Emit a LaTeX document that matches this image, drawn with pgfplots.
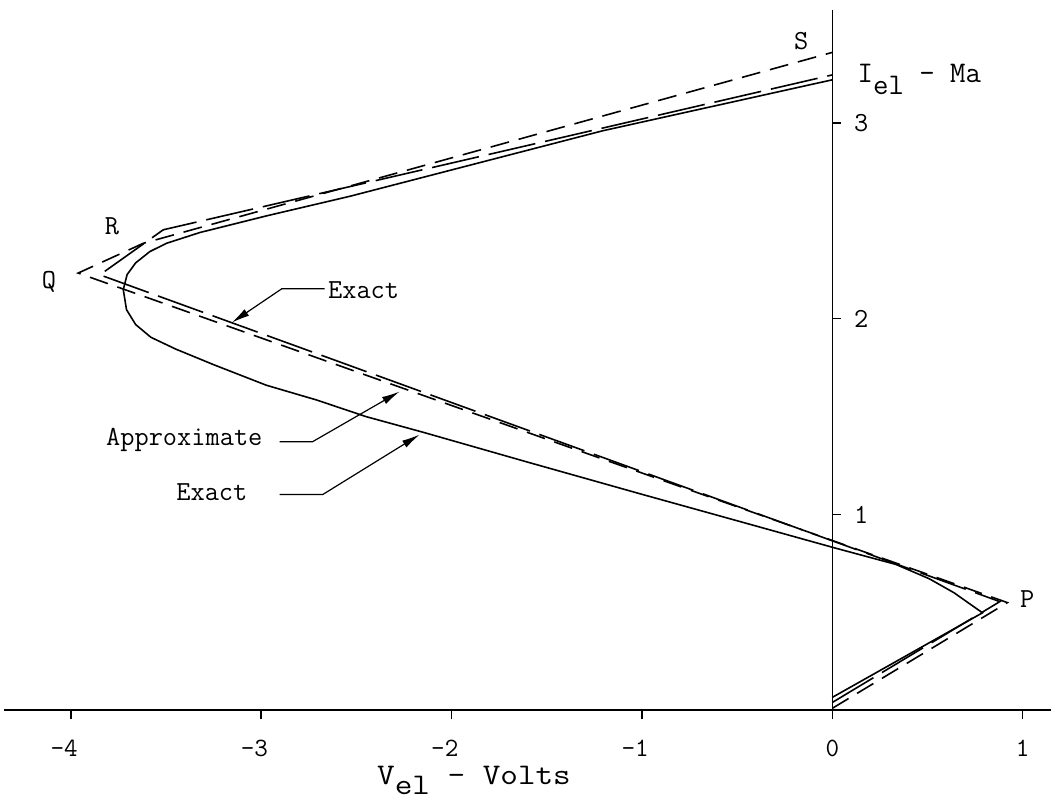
\documentclass[border=0pt]{standalone}
\usepackage{graphicx}
\usepackage{pgfplots}
\pgfplotsset{compat=1.18}
\usetikzlibrary{arrows.meta}
\newcommand\lab{\fontsize{13.8}{16}\selectfont\ttfamily}
\newcommand\ticklab{\fontsize{13.2}{15}\selectfont\ttfamily}
\newcommand\axlab{\fontsize{15}{17}\selectfont\ttfamily}
\begin{document}
\begin{tikzpicture}
\begin{axis}[
  scale only axis,
  width=523.9pt, height=350.5pt,
  xmin=-4.35, xmax=1.15, ymin=0, ymax=3.577,
  axis x line=bottom, axis y line=middle,
  axis line style={-, line width=0.8pt, black},
  every inner y axis line/.append style={-},
  every inner x axis line/.append style={-},
  hide obscured x ticks=false,
  hide obscured y ticks=false,
  xtick={-4,-3,-2,-1,0,1},
  xticklabels={\llap{-}4,\llap{-}3,\llap{-}2,\llap{-}1,0,1},
  ytick={1,2,3}, yticklabels={1,2,3},
  xtick align=outside, ytick align=inside,
  major tick length=4.5pt,
  tick style={line width=0.8pt, black},
  ticklabel style={font=\lab},
  xticklabel style={font=\ticklab, anchor=center, yshift=-14.5pt},
  yticklabel style={anchor=west, xshift=7.4pt},
  clip=false,
]
% page extent
\path (axis cs:-4.3727,-0.4898) rectangle (axis cs:1.1496,3.6276);

% approximation through P, Q and S (short dashes)
\addplot[black, line width=0.8pt, dash pattern=on 9.5pt off 5pt]
  coordinates {(0,0.01) (0.92,0.55) (-3.962,2.233) (-3.62,2.385) (0,3.36)};

% approximation through P, Q, R (long dashes)
\addplot[black, line width=0.8pt, dash pattern=on 24pt off 5pt]
  coordinates {(0,0.04) (0.88,0.555) (-3.848,2.224) (-3.515,2.454) (0,3.245)};

% exact characteristic
\addplot[black, line width=0.8pt] coordinates {
  (0,0.066) (0.789,0.498) (0.72,0.545) (0.64,0.60) (0.509,0.672)
  (0.334,0.745) (0.01,0.83) (-0.5,0.968) (-1.0,1.103) (-1.61,1.27)
  (-2.15,1.42) (-2.45,1.50) (-2.71,1.585) (-2.973,1.66) (-3.25,1.765)
  (-3.45,1.845) (-3.58,1.905) (-3.66,1.97) (-3.708,2.046) (-3.725,2.148)
  (-3.705,2.225) (-3.66,2.285) (-3.585,2.343) (-3.498,2.385) (-3.323,2.44)
  (-2.973,2.525) (-2.535,2.625) (-1.205,2.96) (0,3.22)};

% annotations
\draw[line width=0.6pt, -{Latex[length=9pt,width=4pt]}]
  (axis cs:-2.667,2.153) -- (axis cs:-2.892,2.153) -- (axis cs:-3.155,1.98);
\node[font=\lab, anchor=west, inner sep=0pt] at (axis cs:-2.651,2.148) {Exact};

\draw[line width=0.6pt, -{Latex[length=9pt,width=4pt]}]
  (axis cs:-2.903,1.372) -- (axis cs:-2.73,1.372) -- (axis cs:-2.273,1.628);
\node[font=\lab, anchor=east, inner sep=0pt] at (axis cs:-2.992,1.383) {Approximate};

\draw[line width=0.6pt, -{Latex[length=9pt,width=4pt]}]
  (axis cs:-2.903,1.102) -- (axis cs:-2.677,1.102) -- (axis cs:-2.168,1.408);
\node[font=\lab, anchor=east, inner sep=0pt] at (axis cs:-3.071,1.112) {Exact};

\node[font=\lab, inner sep=0pt] at (axis cs:-4.115,2.19) {Q};
\node[font=\lab, inner sep=0pt] at (axis cs:-3.785,2.47) {R};
\node[font=\lab, inner sep=0pt] at (axis cs:-0.163,3.42) {S};
\node[font=\lab, inner sep=0pt] at (axis cs:1.024,0.566) {P};

\node[font=\axlab, anchor=base west, inner sep=0pt] at (axis cs:0.131,3.204)
  {I\raisebox{-6pt}{el} - Ma};
\node[font=\axlab, anchor=base west, inner sep=0pt] at (axis cs:-2.393,-0.378)
  {\scalebox{1.14}[1]{V\raisebox{-5pt}{el} - Volts}};
\end{axis}
\end{tikzpicture}
\end{document}
